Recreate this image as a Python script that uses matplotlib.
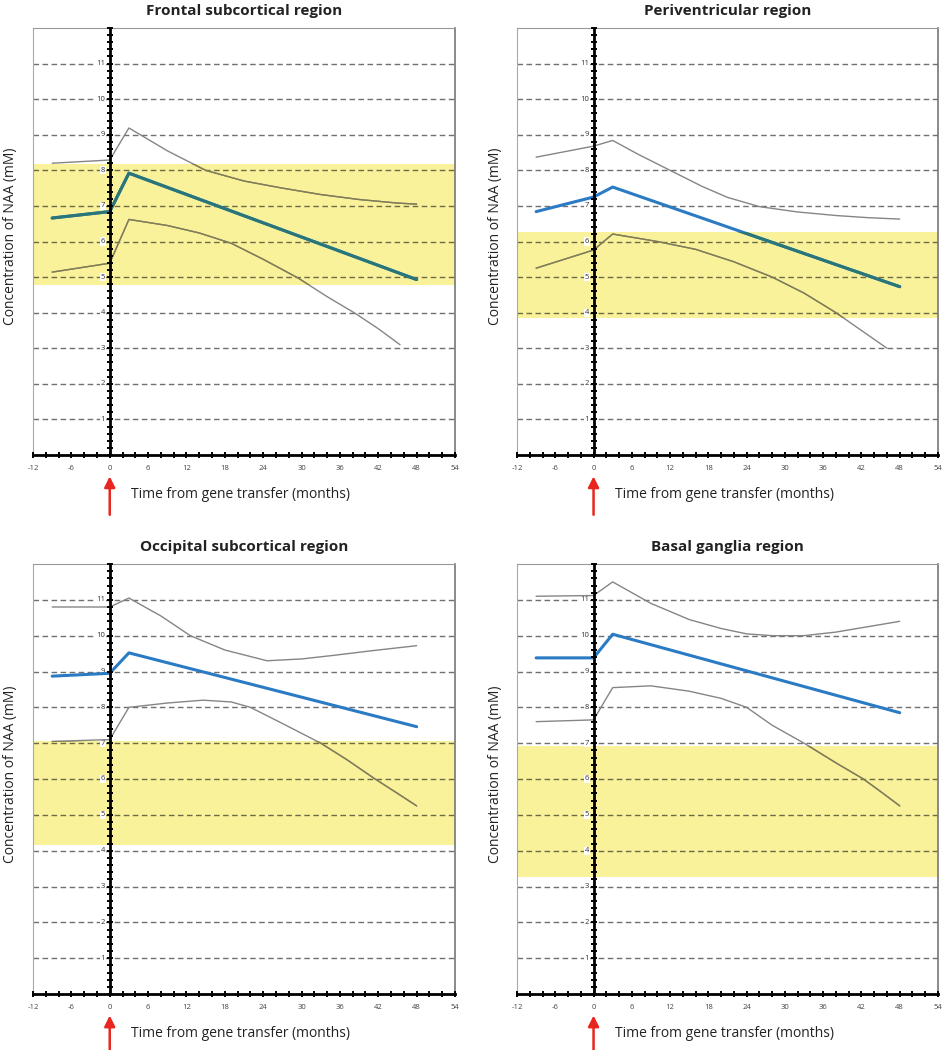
#!/usr/bin/env python3
"""
NAA concentration over time after gene transfer, four brain regions.
"""

import numpy as np
import matplotlib.pyplot as plt
from matplotlib.colors import to_rgb

plt.rcParams["font.family"] = ["Open Sans", "DejaVu Sans"]

# x ticks and y levels
month_ticks = [-12, -6, 0, 6, 12, 18, 24, 30, 36, 42, 48, 54]
naa_levels = [1, 2, 3, 4, 5, 6, 7, 8, 9, 10, 11]

titles = [
    "Frontal subcortical region",
    "Periventricular region",
    "Occipital subcortical region",
    "Basal ganglia region",
]

# mean NAA (blue line) at these months
mean_months = [-9, 0, 3, 48]
frontal_mean = [6.66, 6.84, 7.92, 4.93]
peri_mean = [6.84, 7.25, 7.53, 4.73]
occipital_mean = [8.87, 8.95, 9.52, 7.46]
basal_mean = [9.38, 9.38, 10.04, 7.85]

# upper / lower confidence curves
frontal_upper_x = [-9, 0, 3, 9, 15, 21, 27, 33, 39, 45, 48]
frontal_upper = [8.2, 8.29, 9.19, 8.55, 8.0, 7.7, 7.5, 7.32, 7.18, 7.08, 7.05]
frontal_lower_x = [-9, 0, 3, 9, 14, 19, 24, 29.5, 34, 38.4, 42, 45.4]
frontal_lower = [5.14, 5.39, 6.62, 6.45, 6.24, 5.95, 5.5, 4.97, 4.45, 3.98, 3.55, 3.1]

peri_upper_x = [-9, 0, 3, 7, 12, 17, 21, 26, 32, 38, 43, 48]
peri_upper = [8.37, 8.68, 8.84, 8.45, 8.0, 7.55, 7.24, 6.98, 6.83, 6.73, 6.67, 6.63]
peri_lower_x = [-9, 0, 3, 10, 16, 22, 28, 33, 38, 42, 46]
peri_lower = [5.25, 5.76, 6.21, 6.0, 5.78, 5.43, 5.0, 4.55, 4.0, 3.5, 3.0]

occipital_upper_x = [-9, 0, 3, 8, 12.6, 18, 24.6, 30, 35, 41, 48]
occipital_upper = [10.8, 10.8, 11.05, 10.55, 10.0, 9.6, 9.3, 9.35, 9.45, 9.58, 9.72]
occipital_lower_x = [-9, 0, 3, 9, 14.6, 19, 22, 27, 33, 37, 41.5, 45, 48]
occipital_lower = [7.05, 7.1, 8.0, 8.12, 8.2, 8.15, 8.0, 7.55, 7.0, 6.55, 6.0, 5.6, 5.25]

basal_upper_x = [-9, 0, 3, 9, 15, 20, 24, 28, 33, 38, 43, 48]
basal_upper = [11.1, 11.12, 11.5, 10.9, 10.45, 10.2, 10.05, 10.0, 10.0, 10.1, 10.25, 10.4]
basal_lower_x = [-9, 0, 3, 9, 15, 20, 24, 28, 33, 38, 42.3, 45, 48]
basal_lower = [7.6, 7.65, 8.55, 8.6, 8.45, 8.25, 8.0, 7.5, 7.0, 6.45, 6.0, 5.65, 5.25]

# normal range (yellow band), low / high
frontal_band = [4.78, 8.17]
peri_band = [3.84, 6.27]
occipital_band = [4.15, 7.05]
basal_band = [3.27, 6.93]

BLUE = "#2b7bc4"
GRAY = "#858585"
YELLOW = "#f9f29b"
GRID = "#707070"
RED = "#e8261f"


def multiply(c, bg=YELLOW):
    # fake a "multiply" blend of a line over the yellow band
    return tuple(a * b for a, b in zip(to_rgb(c), to_rgb(bg)))


def draw_panel(ax, title, band, mean, upper_x, upper, lower_x, lower):
    ax.set_xlim(-12, 54)
    ax.set_ylim(0, 12)
    ax.set_facecolor("white")

    band_patch = ax.axhspan(band[0], band[1], color=YELLOW, lw=0, zorder=0)

    # dashed grid, darker inside the band
    for lvl in naa_levels:
        col = multiply(GRID) if band[0] < lvl < band[1] else GRID
        ax.axhline(lvl, color=col, lw=1.0, dashes=(4, 2.5), zorder=1)
        ax.text(-0.7, lvl, str(lvl), ha="right", va="center", fontsize=5.5,
                color="#333333", zorder=3,
                bbox=dict(facecolor="white", edgecolor="none", pad=0.4))

    series = [
        (upper_x, upper, GRAY, 1.0),
        (lower_x, lower, GRAY, 1.0),
        (mean_months, mean, BLUE, 2.2),
    ]
    for xs, ys, col, lw in series:
        ax.plot(xs, ys, color=col, lw=lw, zorder=4, solid_capstyle="round")
        over, = ax.plot(xs, ys, color=multiply(col), lw=lw, zorder=4.5,
                        solid_capstyle="round")
        over.set_clip_path(band_patch)

    # the thick axis at time zero, with small tick marks
    ax.axvline(0, color="black", lw=2, zorder=5)
    ax.plot(np.zeros(61), np.linspace(0, 12, 61), ls="none", marker="_",
            ms=5, mew=1.4, color="black", zorder=5, clip_on=False)
    ax.plot(np.arange(-12, 55, 2), np.zeros(34), ls="none", marker="|",
            ms=4, mew=1.4, color="black", zorder=5, clip_on=False)

    ax.set_xticks(month_ticks)
    ax.set_xticklabels([str(m) for m in month_ticks])
    ax.set_yticks([])
    ax.tick_params(axis="x", length=0, pad=7, labelsize=5.5, labelcolor="#444444")

    ax.spines["bottom"].set_color("black")
    ax.spines["bottom"].set_linewidth(2)
    ax.spines["left"].set_color("#9ab0b0")
    ax.spines["left"].set_linewidth(0.8)
    ax.spines["top"].set_color("#999999")
    ax.spines["top"].set_linewidth(0.8)
    ax.spines["right"].set_color("#777777")
    ax.spines["right"].set_linewidth(1.2)

    # red arrow marking gene transfer
    ax.annotate("", xy=(0, -0.05), xytext=(0, -0.14),
                xycoords=("data", "axes fraction"),
                textcoords=("data", "axes fraction"),
                arrowprops=dict(arrowstyle="-|>", color=RED, lw=1.8,
                                mutation_scale=16, shrinkA=0, shrinkB=0),
                annotation_clip=False)
    ax.text(3.3, -0.093, "Time from gene transfer (months)", ha="left",
            va="center", fontsize=10, color="#222222",
            transform=ax.get_xaxis_transform())

    ax.set_title(title, fontsize=11, fontweight="bold", color="#222222", pad=9)


def main():
    fig = plt.figure(figsize=(9.44, 10.5), dpi=100)

    W, H = 944, 1050
    boxes = [
        (33, 28, 455, 455),
        (517, 28, 938, 455),
        (33, 564, 455, 994),
        (517, 564, 938, 994),
    ]
    axes = []
    for x0, y0, x1, y1 in boxes:
        axes.append(fig.add_axes([x0 / W, 1 - y1 / H, (x1 - x0) / W, (y1 - y0) / H]))

    panels = [
        (frontal_band, frontal_mean, frontal_upper_x, frontal_upper, frontal_lower_x, frontal_lower),
        (peri_band, peri_mean, peri_upper_x, peri_upper, peri_lower_x, peri_lower),
        (occipital_band, occipital_mean, occipital_upper_x, occipital_upper, occipital_lower_x, occipital_lower),
        (basal_band, basal_mean, basal_upper_x, basal_upper, basal_lower_x, basal_lower),
    ]
    for ax, title, p in zip(axes, titles, panels):
        draw_panel(ax, title, *p)

    # y labels sit at the far left of each column
    for (x0, y0, x1, y1) in boxes:
        fig.text((x0 - 22) / W, 1 - (y0 + y1 - 10) / 2 / H, "Concentration of NAA (mM)",
                 rotation=90, ha="center", va="center", fontsize=10, color="#222222")

    plt.savefig("out.png", dpi=100)
    plt.close()


if __name__ == "__main__":
    main()
